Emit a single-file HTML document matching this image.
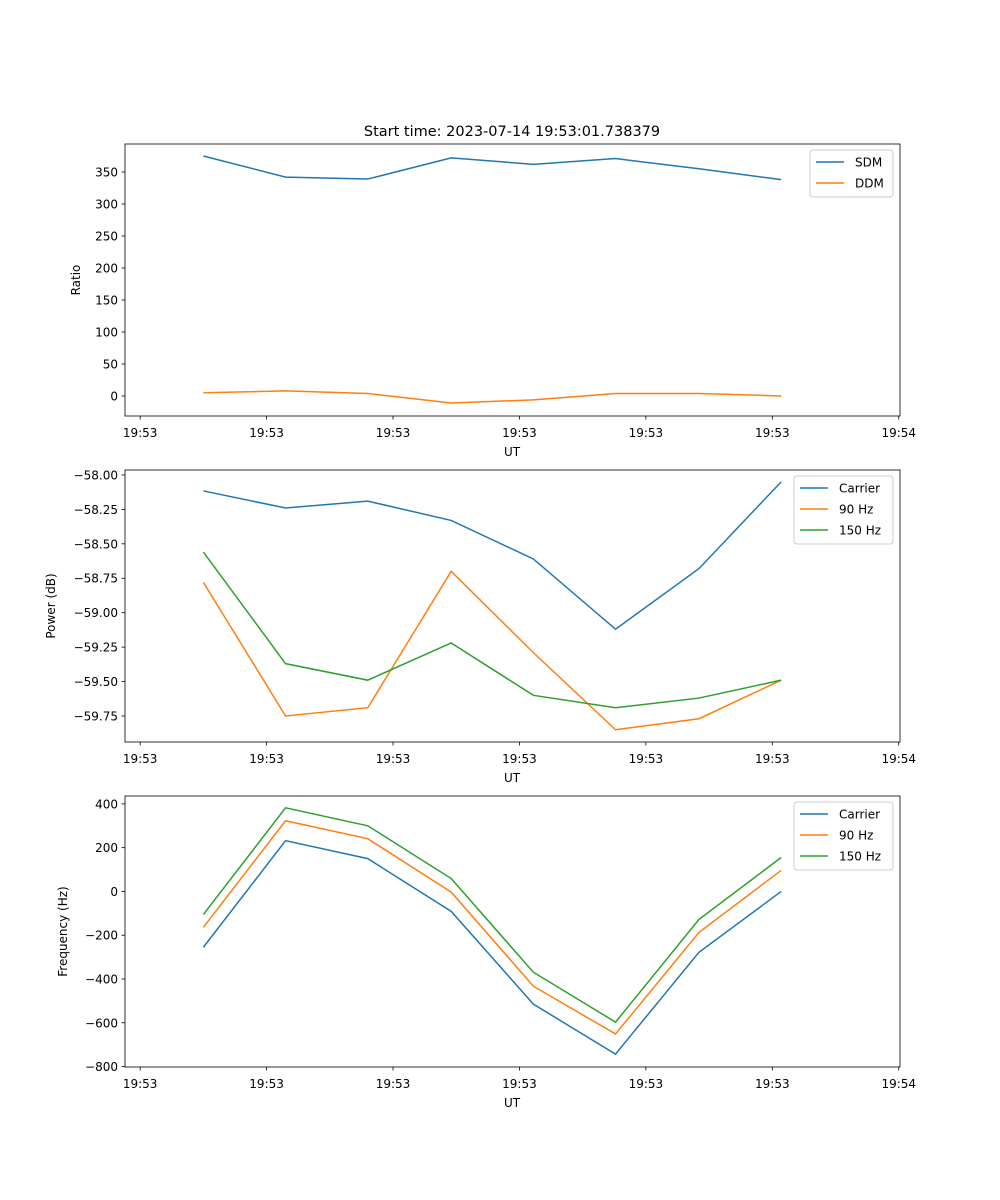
<!DOCTYPE html>
<html><head><meta charset="utf-8"><style>body{margin:0;background:#fff}svg{display:block;font-family:"DejaVu Sans","Liberation Sans",sans-serif}</style></head>
<body>
<svg id="fig" width="1000" height="1200" viewBox="0 0 1000 1200" xmlns="http://www.w3.org/2000/svg">
<rect width="1000" height="1200" fill="#fff"/>
<text x="512" y="136" font-size="14.5" text-anchor="middle">Start time: 2023-07-14 19:53:01.738379</text>
</svg>
<script>
const times = [5.0, 11.5, 18.0, 24.6, 31.1, 37.6, 44.2, 50.7];
const xTicks = [0, 10, 20, 30, 40, 50, 60];
const xTickLabels = ["19:53","19:53","19:53","19:53","19:53","19:53","19:54"];
const sdm = [375, 342, 339, 372, 362, 371, 355, 338];
const ddm = [5, 8, 4, -11, -6, 4, 4, 0];
const powCarrier = [-58.116, -58.24, -58.19, -58.33, -58.61, -59.12, -58.68, -58.05];
const pow90 = [-58.78, -59.75, -59.69, -58.70, -59.29, -59.85, -59.77, -59.49];
const pow150 = [-58.56, -59.37, -59.49, -59.22, -59.60, -59.69, -59.62, -59.49];
const freqCarrier = [-255, 232, 150, -91, -515, -743, -278, 0];
const freq90 = [-164, 323, 241, -3, -433, -651, -187, 96];
const freq150 = [-105, 382, 300, 59, -369, -597, -128, 155];
const ticks1 = [0, 50, 100, 150, 200, 250, 300, 350];
const ticks2 = [-59.75, -59.5, -59.25, -59.0, -58.75, -58.5, -58.25, -58.0];
const ticks3 = [-800, -600, -400, -200, 0, 200, 400];

const NS = "http://www.w3.org/2000/svg";
const svg = document.getElementById('fig');
const L = 125, R = 900, XMIN = -1.2, XMAX = 60.1;
const C = ['#1f77b4', '#ff7f0e', '#2ca02c'];
function mk(tag, attrs, parent) { const e = document.createElementNS(NS, tag); for (const k in attrs) e.setAttribute(k, attrs[k]); (parent || svg).appendChild(e); return e; }
function xs(t) { return L + (t - XMIN) / (XMAX - XMIN) * (R - L); }

function panel(name, top, bot, ymin, ymax, yt, fmt, ylabel, series, names, legend) {
  const g = mk('g', {});
  
  
  const ys = v => bot - (v - ymin) / (ymax - ymin) * (bot - top);
  series.forEach((s, i) => {
    const p = mk('polyline', { points: s.map((v, j) => xs(times[j]) + ',' + ys(v)).join(' '), fill: 'none', stroke: C[i], 'stroke-width': 1.5 }, g);
    
    
  });
  mk('rect', { x: L, y: top, width: R - L, height: bot - top, fill: 'none', stroke: '#000', 'stroke-width': 0.8 }, g);
  xTicks.forEach((t, i) => {
    const x = xs(t);
    mk('line', { x1: x, x2: x, y1: bot, y2: bot + 3.5, stroke: '#000', 'stroke-width': 0.8 }, g);
    const tx = mk('text', { x: x, y: bot + 21, 'font-size': 12, 'text-anchor': 'middle' }, g);
    
    
    tx.textContent = xTickLabels[i];
  });
  yt.forEach(v => {
    const y = ys(v);
    mk('line', { x1: L - 3.5, x2: L, y1: y, y2: y, stroke: '#000', 'stroke-width': 0.8 }, g);
    const tx = mk('text', { x: L - 7, y: y + 4.5, 'font-size': 12, 'text-anchor': 'end' }, g);
    
    
    tx.textContent = fmt(v);
  });
  const xl = mk('text', { x: 512, y: bot + 40, 'font-size': 12, 'text-anchor': 'middle' }, g);
  
  
  xl.textContent = 'UT';
  const cy = (top + bot) / 2;
  const yl = mk('text', { x: legend.yx, y: cy, 'font-size': 12, 'text-anchor': 'middle', transform: 'rotate(-90 ' + legend.yx + ' ' + cy + ')' }, g);
  
  
  yl.textContent = ylabel;
  const lg = mk('g', {}, g);
  
  
  mk('rect', { x: legend.x, y: top + 6, width: R - 7 - legend.x, height: 5 + names.length * 21, rx: 3, fill: '#fff', stroke: '#ccc', 'stroke-width': 1 }, lg);
  names.forEach((n, i) => {
    const y = top + 18 + i * 21;
    mk('line', { x1: legend.x + 6, x2: legend.x + 34, y1: y, y2: y, stroke: C[i], 'stroke-width': 1.5 }, lg);
    const t = mk('text', { x: legend.x + 45, y: y + 4.5, 'font-size': 12 }, lg);
    
    
    t.textContent = n;
  });
}
panel('ratio', 144, 416, -31.25, 393.75, ticks1, v => String(v), 'Ratio', [sdm, ddm], ['SDM', 'DDM'], { x: 810, yx: 80 });
panel('power', 470, 742, -59.939, -57.964, ticks2, v => '\u2212' + Math.abs(v).toFixed(2), 'Power (dB)', [powCarrier, pow90, pow150], ['Carrier', '90 Hz', '150 Hz'], { x: 794, yx: 55 });
panel('frequency', 796, 1067, -802, 436, ticks3, v => (v < 0 ? '\u2212' : '') + Math.abs(v), 'Frequency (Hz)', [freqCarrier, freq90, freq150], ['Carrier', '90 Hz', '150 Hz'], { x: 794, yx: 67 });
</script>
</body></html>
